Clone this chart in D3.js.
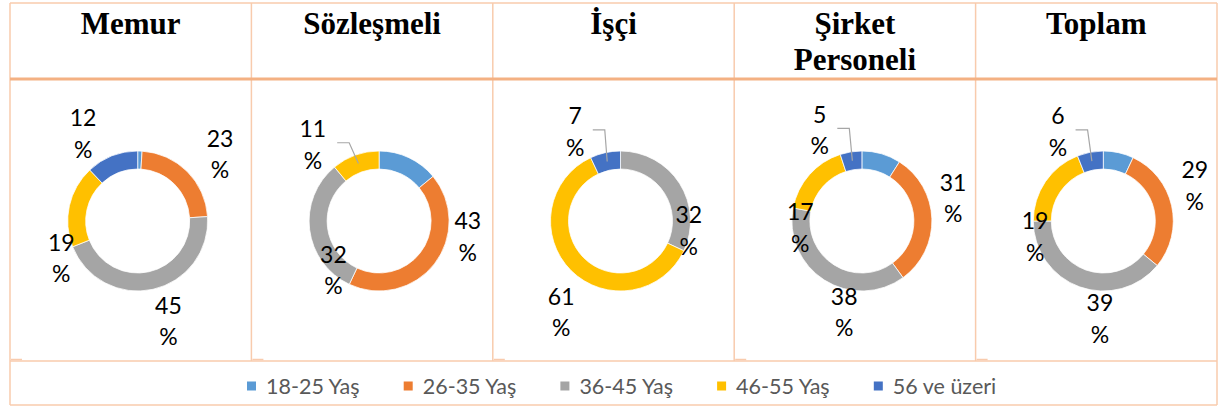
<!DOCTYPE html>
<html>
<head>
<meta charset="utf-8">
<script src="https://cdn.jsdelivr.net/npm/d3@7"></script>
<style>
	body { margin: 0; background: #fff; }
	svg { display: block; }
</style>
</head>
<body>
<svg id="plot" width="1219" height="408"></svg>
<script>
// column titles (two-line one for Şirket Personeli)
const titles = [["Memur"], ["Sözleşmeli"], ["İşçi"], ["Şirket", "Personeli"], ["Toplam"]];
const ageGroups = ["18-25 Yaş", "26-35 Yaş", "36-45 Yaş", "46-55 Yaş", "56 ve üzeri"];

// percent per age group, in ageGroups order
const memur = [1, 23, 45, 19, 12];
const sozlesmeli = [14, 43, 32, 11, 0];
const isci = [0, 0, 32, 61, 7];
const sirket = [9, 31, 38, 17, 5];
const toplam = [7, 29, 39, 19, 6];

const groupColors = ["#5B9BD5", "#ED7D31", "#A5A5A5", "#FFC000", "#4472C4"];

// where the labels were dragged to: [angle deg from 12 o'clock, radius], null = no label
const labelPlacement = [
	[null, [51, 106], [163, 105], [244, 85], [328, 103]],
	[null, [100, 90], [223, 67], [319, 101], null],
	[null, null, [98, 69], [213, 109], [333, 100]],
	[null, [76, 94], [191, 93], [264, 62], [335, 100]],
	[null, [69, 98], [182, 98], [257, 70], [333, 100]]
];

const series = [memur, sozlesmeli, isci, sirket, toplam];

const svg = d3.select('#plot');
const lineLight = "#F8CBAD";
const lineDark = "#F4B183";

const tableLeft = 10, tableRight = 1217;
const tableTop = 3, headBottom = 79, rowBottom = 361, tableBottom = 405;

const col = d3.scaleBand()
	.domain(d3.range(titles.length))
	.range([tableLeft, tableRight]);

//---------- TABLE LINES ----------//
const grid = svg.append('g');

// vertical dividers
grid.selectAll('line.v')
	.data(d3.range(titles.length + 1))
	.enter()
	.append('line')
	.attr('x1', i => i < titles.length ? col(i) : tableRight)
	.attr('x2', i => i < titles.length ? col(i) : tableRight)
	.attr('y1', tableTop)
	.attr('y2', i => (i == 0 || i == titles.length) ? tableBottom : rowBottom)
	.attr('stroke', lineLight)
	.attr('stroke-width', 1.5);

grid.selectAll('line.h')
	.data([tableTop, rowBottom, tableBottom])
	.enter()
	.append('line')
	.attr('x1', tableLeft)
	.attr('x2', tableRight)
	.attr('y1', d => d)
	.attr('y2', d => d)
	.attr('stroke', lineLight)
	.attr('stroke-width', 1.5);

grid.append('line')
	.attr('x1', tableLeft).attr('x2', tableRight)
	.attr('y1', headBottom).attr('y2', headBottom)
	.attr('stroke', lineDark)
	.attr('stroke-width', 3);

// little chart frame corners peeking out at the bottom of each cell
grid.selectAll('line.corner')
	.data(d3.range(titles.length))
	.enter()
	.append('line')
	.attr('x1', i => col(i) + 1)
	.attr('x2', i => col(i) + 12)
	.attr('y1', rowBottom - 1.5)
	.attr('y2', rowBottom - 1.5)
	.attr('stroke', lineLight)
	.attr('stroke-width', 1.5);

//---------- HEADERS ----------//
svg.append('g')
	.selectAll('text')
	.data(titles)
	.enter()
	.append('text')
	.attr('x', (d, i) => col(i) + col.bandwidth() / 2)
	.attr('y', 34)
	.attr('text-anchor', 'middle')
	.style('font-family', '"Liberation Serif", "Times New Roman", serif')
	.style('font-weight', 'bold')
	.style('font-size', '31px')
	.attr('fill', '#000')
	.each(function(d) {
		const t = d3.select(this);
		d.forEach((line, k) => {
			t.append('tspan')
				.attr('x', t.attr('x'))
				.attr('dy', k == 0 ? 0 : 36)
				.text(line);
		});
	});

//---------- DONUTS ----------//
const cy = 221;
const outerR = 70, innerR = 52;
const pie = d3.pie().sort(null).value(d => d);
const arc = d3.arc().innerRadius(innerR).outerRadius(outerR);
const midArc = d3.arc().innerRadius(61).outerRadius(61);

series.forEach((values, i) => {
	const cx = col(i) + col.bandwidth() / 2 + 7;
	const g = svg.append('g').attr('transform', 'translate(' + cx + ',' + cy + ')');
	const slices = pie(values);

	g.selectAll('path')
		.data(slices)
		.enter()
		.append('path')
		.attr('d', arc)
		.attr('fill', (d, k) => groupColors[k])
		.attr('stroke', '#fff')
		.attr('stroke-width', d => d.value > 0 ? 0.75 : 0);

	slices.forEach((s, k) => {
		const place = labelPlacement[i][k];
		if (!place || s.value == 0) return;
		const a = place[0] * Math.PI / 180;
		const lx = place[1] * Math.sin(a);
		const ly = -place[1] * Math.cos(a);

		const label = g.append('text')
			.attr('text-anchor', 'middle')
			.style('font-family', 'Lato, "Open Sans", sans-serif')
			.style('font-size', '23px')
			.attr('fill', '#000');
		const num = label.append('tspan')
			.attr('x', lx)
			.attr('y', ly - 15.75)
			.attr('dy', '0.36em')
			.text(s.value);
		label.append('tspan')
			.attr('x', lx)
			.attr('y', ly + 15.75)
			.attr('dy', '0.36em')
			.text('%');

		// leader line for the small slices
		if (s.value <= 11) {
			const half = num.node().getComputedTextLength() / 2;
			const c = midArc.centroid(s);
			const x0 = lx + half + 11;
			g.append('polyline')
				.attr('points', [[x0, ly - 2], [x0 + 12, ly - 2], c].map(p => p.join(',')).join(' '))
				.attr('fill', 'none')
				.attr('stroke', '#A6A6A6')
				.attr('stroke-width', 1.2);
		}
	});
});

//---------- LEGEND ----------//
const legendX = d3.scaleBand()
	.domain(ageGroups)
	.range([247, 247 + 156.7 * ageGroups.length]);

const legend = svg.append('g')
	.selectAll('g')
	.data(ageGroups)
	.enter()
	.append('g')
	.attr('transform', d => 'translate(' + legendX(d) + ',' + 386 + ')');

legend.append('rect')
	.attr('x', 0)
	.attr('y', -4.5)
	.attr('width', 9)
	.attr('height', 9)
	.attr('fill', (d, k) => groupColors[k]);

legend.append('text')
	.attr('x', 19)
	.attr('y', 0)
	.attr('dy', '0.36em')
	.style('font-family', 'Lato, "Open Sans", sans-serif')
	.style('font-size', '21.5px')
	.attr('fill', '#595959')
	.text(d => d);
</script>
</body>
</html>
